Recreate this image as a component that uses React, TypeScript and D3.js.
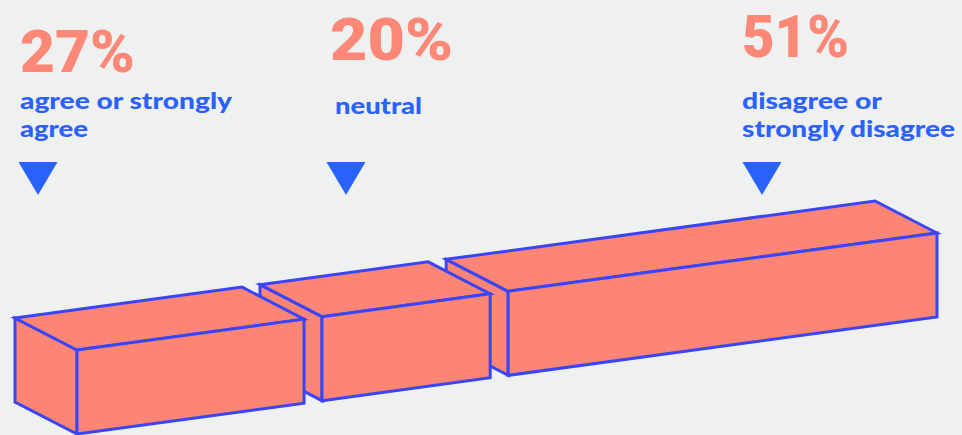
import React from "react";
import * as d3 from "d3";

// ---- data ----
const categories = ["agree or strongly agree", "neutral", "disagree or strongly disagree"];
const values = [27, 20, 51];
const labelLines = [["agree or strongly", "agree"], ["neutral"], ["disagree or", "strongly disagree"]];

// ---- layout ----
const W = 962;
const H = 435;
const BG = "#eff0f0";
const FILL = "#fc8575";
const STROKE = "#3a46f6";
const BLUE = "#2a62ff";
const SALMON = "#fd8878";

const origin = { x: 77, y: 350 }; // front-top-left of first box
const slope = -34 / 250; // tilt of the length axis
const depth = { x: -62, y: -32 }; // front -> back
const boxH = 84;
const gap = 18;
const totalLen = 860;

const labelX = [20, 330, 742];
const pctBaseline = [72, 60, 57];
const pctWidth = [115, 123, 107];
const labelBaseline = [109, 114, 109];
const labelWidths = [[212, 68], [87], [140, 213]];
const triY = 162;
const triX = [38, 346, 762];

export default function App() {
  const sum = d3.sum(values);
  const len = d3.scaleLinear().domain([0, sum]).range([0, totalLen - gap * (values.length - 1)]);
  const starts = values.map((_, i) => len(d3.sum(values.slice(0, i))) + gap * i);

  const P = (u: number) => ({ x: origin.x + u, y: origin.y + u * slope });
  const boxes = values.map((v, i) => {
    const u0 = starts[i];
    const u1 = u0 + len(v);
    const ftl = P(u0);
    const ftr = P(u1);
    const btl = { x: ftl.x + depth.x, y: ftl.y + depth.y };
    const btr = { x: ftr.x + depth.x, y: ftr.y + depth.y };
    const fbl = { x: ftl.x, y: ftl.y + boxH };
    const fbr = { x: ftr.x, y: ftr.y + boxH };
    const bbl = { x: btl.x, y: btl.y + boxH };
    const pts = (arr: { x: number; y: number }[]) => arr.map((p) => `${p.x},${p.y}`).join(" ");
    return {
      key: categories[i],
      left: pts([btl, ftl, fbl, bbl]),
      top: pts([btl, btr, ftr, ftl]),
      front: pts([ftl, ftr, fbr, fbl]),
    };
  });

  const font = "Lato, 'Open Sans', 'DejaVu Sans', sans-serif";
  const pctFont = "Roboto, 'Liberation Sans', sans-serif";

  return (
    <svg
      width={W}
      height={H}
      style={{ position: "absolute", left: 0, top: 0, background: BG, display: "block" }}
    >
      <rect x={0} y={0} width={W} height={H} fill={BG} />
      {boxes
        .map((b) => (
          <g key={b.key} fill={FILL} stroke={STROKE} strokeWidth={3} strokeLinejoin="miter">
            <polygon points={b.left} />
            <polygon points={b.top} />
            <polygon points={b.front} />
          </g>
        ))
        .reverse()}
      {values.map((v, i) => (
        <g key={"lab" + i}>
          <text
            x={labelX[i]}
            y={pctBaseline[i]}
            fill={SALMON}
            fontFamily={pctFont}
            fontWeight={900}
            fontSize={60}
            textLength={pctWidth[i]}
            lengthAdjust="spacingAndGlyphs"
          >
            {`${v}%`}
          </text>
          {labelLines[i].map((line, j) => (
            <text
              key={j}
              x={labelX[i] + (i === 1 ? 5 : 0)}
              y={labelBaseline[i] + j * 28}
              fill={BLUE}
              fontFamily={font}
              fontWeight={900}
              fontSize={23}
              textLength={labelWidths[i][j]}
              lengthAdjust="spacingAndGlyphs"
            >
              {line}
            </text>
          ))}
          <polygon
            points={`${triX[i] - 19.5},${triY} ${triX[i] + 19.5},${triY} ${triX[i]},${triY + 33}`}
            fill={BLUE}
          />
        </g>
      ))}
    </svg>
  );
}
